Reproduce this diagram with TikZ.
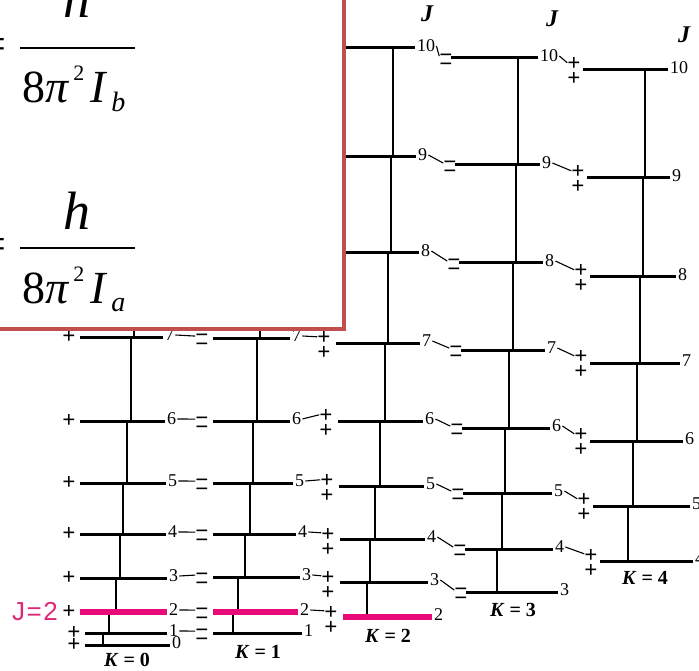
\documentclass[tikz,border=0pt]{standalone}
\usepackage{fontspec}
\setmainfont{Liberation Serif}
\newfontfamily\sansf{Liberation Sans}
\usetikzlibrary{calc}
\definecolor{hlpink}{RGB}{232,10,120}
\definecolor{jpink}{RGB}{222,40,120}
\definecolor{boxred}{RGB}{192,80,77}
\tikzset{
  level/.style={line width=3pt},
  hllevel/.style={line width=6pt, draw=hlpink},
  vconn/.style={line width=1.6pt},
  tie/.style={line width=1.1pt},
  jlab/.style={font=\fontsize{18}{18}\selectfont, inner sep=0pt, anchor=west},
  sgnplus/.style={font=\fontsize{23}{15}\selectfont\bfseries, inner sep=0pt, align=center},
  sgnminus/.style={font=\fontsize{23}{9}\selectfont\bfseries, inner sep=0pt, align=center},
  klab/.style={font=\fontsize{20}{20}\selectfont, inner sep=0pt},
  jhead/.style={font=\fontsize{24}{24}\selectfont\bfseries\itshape, inner sep=0pt},
}
\newcommand\Klab[1]{\textbf{\textit{K}}\kern5pt\textbf{=}\kern5pt\textbf{#1}}
% #1 K, #2 style, #3 sign text, #4 sign offset, #5 list J/y/xleft/xright
\newcommand\DrawLevels[5]{%
  \foreach \J/\yy/\xa/\xb in {#5} {
    \coordinate (a#1-\J) at (\xa,\yy);
    \coordinate (b#1-\J) at (\xb,\yy);
    \draw[level] (a#1-\J) -- (b#1-\J);
    \node[jlab] (L#1-\J) at ($(b#1-\J)+(2,-2)$) {\J};
    \node[#2] (S#1-\J) at ($(a#1-\J)+#4$) {#3};
  }%
}
% #1 K, #2 list J/Jminus1/x
\newcommand\DrawVert[2]{%
  \foreach \J/\Jm/\xv in {#2} {
    \coordinate (vx) at (\xv,0);
    \draw[vconn] (vx |- a#1-\J) -- (vx |- a#1-\Jm);
  }%
}
\begin{document}
\begin{tikzpicture}[x=1pt,y=-1pt]
\useasboundingbox (0,0) rectangle (699,671);
\clip (0,0) rectangle (699,671);

% ---- energy levels ----
\DrawLevels{0}{sgnplus}{+}{(-11,0)}{0/645/85/170, 1/633/85/167, 2/612/80/167, 3/578/80/167, 4/534/80/166, 5/483/80/166, 6/421/80/165, 7/337/80/163}
\DrawLevels{1}{sgnminus}{−\\−}{(-11,5)}{1/633/213/302, 2/612/213/298, 3/577/213/300, 4/534/213/296, 5/483/213/293, 6/421/213/290, 7/338/213/290}
\DrawLevels{2}{sgnplus}{+\\+}{(-12,3)}{2/617/343/432, 3/582/340/428, 4/539/340/425, 5/486/339/424, 6/421/338/423, 7/343/336/420, 8/253/335/419, 9/157/334/416, 10/48/333/415}
\DrawLevels{3}{sgnminus}{−\\−}{(-5,5)}{3/592/466/558, 4/549/465/553, 5/493/463/552, 6/428/462/550, 7/350/461/545, 8/263/459/543, 9/165/455/540, 10/58/451/538}
\DrawLevels{4}{sgnplus}{+\\+}{(-9,2)}{4/561/600/693, 5/506/593/690, 6/441/590/683, 7/363/590/680, 8/277/590/676, 9/178/587/670, 10/70/583/668}

% ---- vertical connectors within each K column ----
\DrawVert{0}{1/0/103, 2/1/109, 3/2/116, 4/3/120, 5/4/123, 6/5/127, 7/6/131}
\DrawVert{1}{2/1/233, 3/2/238, 4/3/245, 5/4/250, 6/5/253, 7/6/257}
\DrawVert{2}{3/2/367, 4/3/370, 5/4/375, 6/5/380, 7/6/385, 8/7/388, 9/8/391, 10/9/393}
\DrawVert{3}{4/3/497, 5/4/502, 6/5/505, 7/6/509, 8/7/513, 9/8/516, 10/9/518}
\DrawVert{4}{5/4/628, 6/5/633, 7/6/637, 8/7/640, 9/8/643, 10/9/645}
\coordinate (t0) at (134,0);
\coordinate (t1) at (260,0);
\draw[vconn] (t0 |- a0-7) -- ++(0,-12);
\draw[vconn] (t1 |- a1-7) -- ++(0,-12);

% ---- ties from J label to the next column ----
\foreach \J in {1,...,7} \draw[tie] ($(L0-\J.east)+(1,0)$) -- ($(S1-\J.north west)+(0,2)$);
\foreach \J in {2,...,7} \draw[tie] ($(L1-\J.east)+(1,0)$) -- ($(S2-\J.north west)+(0,5)$);
\foreach \J in {3,...,10} \draw[tie] ($(L2-\J.east)+(1,0)$) -- ($(S3-\J.north west)+(0,2)$);
\foreach \J in {4,...,10} \draw[tie] ($(L3-\J.east)+(1,0)$) -- ($(S4-\J.north west)+(0,5)$);

% ---- highlighted J=2 levels ----
\draw[hllevel] (a0-2) -- (b0-2);
\draw[hllevel] (a1-2) -- (b1-2);
\draw[hllevel] (a2-2) -- (b2-2);

% ---- K labels ----
\node[klab] (k0) at (127,660) {\Klab{0}};
\node[klab] (k1) at (258,652) {\Klab{1}};
\node[klab] (k2) at (388,636) {\Klab{2}};
\node[klab] (k3) at (513,610) {\Klab{3}};
\node[klab] (k4) at (645,578) {\Klab{4}};

% ---- J headers ----
\node[jhead] (jh2) at (427,14) {J};
\node[jhead] (jh3) at (552,19) {J};
\node[jhead] (jh4) at (684,35) {J};

% ---- overlay box with formulas ----
\draw[boxred, line width=4pt, fill=white] (-20,-20) rectangle (344,329);
\foreach \by/\nb/\sb [count=\i] in {48/18/b, 248/230/a} {
  \draw[line width=2.2pt] (20,\by) -- (135,\by);
  \node[anchor=base, inner sep=0pt, font=\fontsize{54}{54}\selectfont\itshape] (num\i) at (77,\nb) {h};
  \node[anchor=base west, inner sep=0pt, font=\fontsize{46}{46}\selectfont] (den\i) at (22,\by+55)
    {8\textit{π}\kern4pt\raisebox{22pt}{\fontsize{22}{22}\selectfont 2}\kern6pt\textit{I}\kern4pt\raisebox{-9pt}{\fontsize{28}{28}\selectfont\textit{\sb}}};
  \node[anchor=east, inner sep=0pt, font=\fontsize{46}{46}\selectfont] (eq\i) at (7,\by+1) {=};
}

% ---- J=2 annotation ----
\node[anchor=base west, inner sep=0pt, font=\sansf\fontsize{26}{26}\selectfont, text=jpink] (jtwo) at (12,620) {J\kern1.5pt=\kern1.5pt2};
\end{tikzpicture}
\end{document}
